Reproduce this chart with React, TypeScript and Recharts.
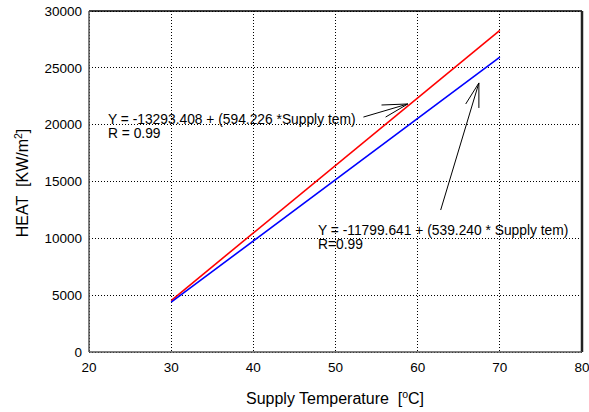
import { LineChart, Line, XAxis, YAxis, CartesianGrid, ReferenceLine } from "recharts";

// supply temperature (°C) at the ends of each fitted line
const temps = [30, 70];
const heatRed = [4530, 28300];
const heatBlue = [4380, 25950];

const xTicks = [20, 30, 40, 50, 60, 70, 80];
const yTicks = [0, 5000, 10000, 15000, 20000, 25000, 30000];

// annotation arrows, in data units: shaft + two head strokes
const arrowRed = [
    [{ x: 53.4, y: 20670 }, { x: 58.8, y: 21820 }],
    [{ x: 55.6, y: 21730 }, { x: 58.8, y: 21820 }],
    [{ x: 56.1, y: 20670 }, { x: 58.8, y: 21820 }],
];
const arrowBlue = [
    [{ x: 62.8, y: 12490 }, { x: 67.45, y: 23670 }],
    [{ x: 65.85, y: 21820 }, { x: 67.45, y: 23670 }],
    [{ x: 67.45, y: 21470 }, { x: 67.45, y: 23670 }],
];

const data = temps.map((t, i) => ({ t, red: heatRed[i], blue: heatBlue[i] }));

const font = "'Liberation Sans', Arial, sans-serif";

export default function App() {
    return (
        <div style={{ position: "absolute", left: 0, top: 0, width: 589, height: 412, background: "#fff", fontFamily: font }}>
            <LineChart width={589} height={412} data={data} margin={{ top: 11, right: 7, bottom: 0, left: 0 }}>
                <CartesianGrid stroke="#000" strokeDasharray="1 2" shapeRendering="crispEdges" />
                <XAxis
                    dataKey="t"
                    type="number"
                    domain={[20, 80]}
                    ticks={xTicks}
                    height={60}
                    tickLine={false}
                    tickSize={0}
                    tickMargin={10}
                    axisLine={{ stroke: "#555", strokeWidth: 1.5 }}
                    tick={{ fill: "#000", fontSize: 13.5, fontFamily: font }}
                />
                <YAxis
                    type="number"
                    domain={[0, 30000]}
                    ticks={yTicks}
                    width={89}
                    tickLine={false}
                    tickSize={0}
                    tickMargin={7}
                    axisLine={{ stroke: "#555", strokeWidth: 1.5 }}
                    tick={{ fill: "#000", fontSize: 13.5, fontFamily: font }}
                />
                <ReferenceLine y={30000} stroke="#000" strokeWidth={1.5} />
                <ReferenceLine x={80} stroke="#222" strokeWidth={2.5} />
                {arrowRed.concat(arrowBlue).map((seg, i) => (
                    <ReferenceLine key={i} segment={seg} stroke="#000" strokeWidth={1} />
                ))}
                <Line dataKey="red" stroke="#ff0000" strokeWidth={1.6} dot={false} isAnimationActive={false} />
                <Line dataKey="blue" stroke="#0000ff" strokeWidth={1.6} dot={false} isAnimationActive={false} />
            </LineChart>
            <svg width={589} height={412} style={{ position: "absolute", left: 0, top: 0, pointerEvents: "none", whiteSpace: "pre" }} fontFamily={font}>
                <text x={108} y={124} fontSize={13.8} fill="#000">Y = -13293.408 + (594.226 *Supply tem)</text>
                <text x={108} y={138} fontSize={13.8} fill="#000">R = 0.99</text>
                <text x={318} y={235} fontSize={13.8} fill="#000">Y = -11799.641 + (539.240 * Supply tem)</text>
                <text x={318} y={249} fontSize={13.8} fill="#000">R=0.99</text>
                <text x={335} y={404} fontSize={16} fill="#000" textAnchor="middle">
                    {"Supply Temperature\u00a0\u00a0["}<tspan fontSize={10.5} dy={-6}>o</tspan><tspan dy={6}>C]</tspan>
                </text>
                <text transform="translate(28,183) rotate(-90)" fontSize={16} fill="#000" textAnchor="middle">
                    {"HEAT\u00a0\u00a0[KW/m"}<tspan fontSize={10.5} dy={-6}>2</tspan><tspan dy={6}>]</tspan>
                </text>
            </svg>
        </div>
    );
}
